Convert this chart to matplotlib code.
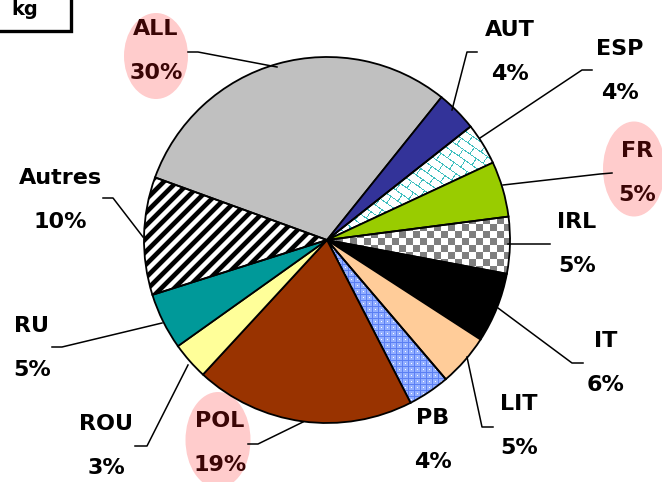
# coding=utf-8
import numpy as np
import matplotlib
matplotlib.use('Agg')
import matplotlib.pyplot as plt
from matplotlib.patches import Ellipse, Rectangle

W, H = 662, 482

# parts per country (%)
labels = ['ALL', 'AUT', 'ESP', 'FR', 'IRL', 'IT', 'LIT', 'PB', 'POL', 'ROU', 'RU', 'Autres']
shares = [30.2, 3.6, 3.7, 4.9, 5.0, 6.2, 4.6, 3.7, 19.4, 3.3, 5.0, 10.4]
highlight = ['ALL', 'FR', 'POL']

colors = ['#C0C0C0', '#333399', 'none', '#99CC00', 'none', '#000000',
          '#FFCC99', 'none', '#993300', '#FFFF99', '#009999', 'none']
textures = {'ESP': 'brick', 'IRL': 'checker', 'PB': 'grid', 'Autres': 'stripes'}

# label placement (pixels, image coords): centre of the name line
label_pos = {'ALL': (156, 27), 'AUT': (510, 28), 'ESP': (620, 47), 'FR': (637, 149),
             'IRL': (577, 220), 'IT': (606, 339), 'LIT': (519, 402), 'PB': (433, 416),
             'POL': (220, 419), 'ROU': (106, 422), 'RU': (32, 324), 'Autres': (60, 176)}
leaders = {'ALL': [(188, 52), (198, 52), (277, 67)],
           'AUT': [(477, 52), (467, 52), (452, 110)],
           'ESP': [(592, 70), (582, 70), (480, 138)],
           'FR': [(612, 173), (600, 174), (503, 185)],
           'IRL': [(550, 244), (508, 244)],
           'IT': [(583, 363), (572, 363), (498, 308)],
           'LIT': [(493, 427), (482, 427), (467, 357)],
           'POL': [(248, 444), (258, 444), (303, 422)],
           'ROU': [(135, 446), (147, 446), (188, 365)],
           'RU': [(52, 347), (62, 347), (162, 323)],
           'Autres': [(103, 198), (113, 198), (143, 237)]}
ellipses = {'ALL': (156, 56, 64, 86), 'FR': (634, 169, 62, 95), 'POL': (218, 440, 65, 96)}


def texture(kind):
    yy, xx = np.mgrid[0:H, 0:W]
    img = np.ones((H, W, 3))
    if kind == 'checker':
        on = ((xx // 7) + (yy // 7)) % 2 == 0
        img[on] = 0.5
    elif kind == 'stripes':
        v = np.clip(0.5 + 1.3 * np.cos(2 * np.pi * (xx + yy) / 13.0), 0, 1)
        img = np.dstack([v, v, v])
    elif kind == 'grid':
        img[:] = np.array([0.58, 0.69, 1.0])
        line = (xx % 6 == 0) | (yy % 6 == 0)
        img[line] = np.array([0.36, 0.50, 0.96])
        dot = (xx % 6 == 3) & (yy % 6 == 3)
        img[dot] = 1.0
    elif kind == 'brick':
        a = np.deg2rad(-35)
        u = xx * np.cos(a) - yy * np.sin(a)
        v = xx * np.sin(a) + yy * np.cos(a)
        row = np.floor(v / 8.0)
        hor = (v % 8.0) < 1.0
        ver = ((u + row * 8.0) % 16.0) < 1.0
        img[hor | ver] = np.array([0.25, 0.75, 0.75])
    return img


def plot_figure():
    fig = plt.figure(figsize=(W / 100, H / 100), dpi=100)
    ax = fig.add_axes([0, 0, 1, 1])

    wedges, _ = ax.pie(shares, colors=colors, startangle=160, counterclock=False,
                       center=(327, H - 240), radius=183,
                       wedgeprops=dict(edgecolor='black', linewidth=1.3, zorder=3))
    for w, lab in zip(wedges, labels):
        if lab in textures:
            im = ax.imshow(texture(textures[lab]), extent=(0, W, 0, H), origin='upper',
                           interpolation='nearest', zorder=2)
            im.set_clip_path(w)

    for lab, val in zip(labels, shares):
        x, y = label_pos[lab]
        col = '#3a0505' if lab in highlight else 'black'
        if lab in ellipses:
            ex, ey, ew, eh = ellipses[lab]
            ax.add_patch(Ellipse((ex, H - ey), ew, eh, facecolor='#FFCCCC',
                                 edgecolor='none', zorder=1))
        ax.text(x, H - y - 8, lab, ha='center', va='baseline', fontsize=16,
                fontweight='bold', color=col, zorder=5)
        ax.text(x, H - y - 52, '%.0f%%' % val, ha='center', va='baseline', fontsize=16,
                fontweight='bold', color=col, zorder=5)
        if lab in leaders:
            pts = np.array(leaders[lab], dtype=float)
            ax.plot(pts[:, 0], H - pts[:, 1], color='black', linewidth=1.1, zorder=4)

    # unit box in the corner
    ax.add_patch(Rectangle((-10, H - 31), 81, 45, facecolor='white', edgecolor='black',
                           linewidth=2.4, zorder=5))
    ax.text(38, H - 15, 'kg', ha='right', va='baseline', fontsize=14, fontweight='bold',
            zorder=6)

    ax.set_xlim(0, W)
    ax.set_ylim(0, H)
    ax.set_aspect('auto')
    ax.set_axis_off()
    fig.savefig('out.png', dpi=100)


if __name__ == "__main__":
    plot_figure()
